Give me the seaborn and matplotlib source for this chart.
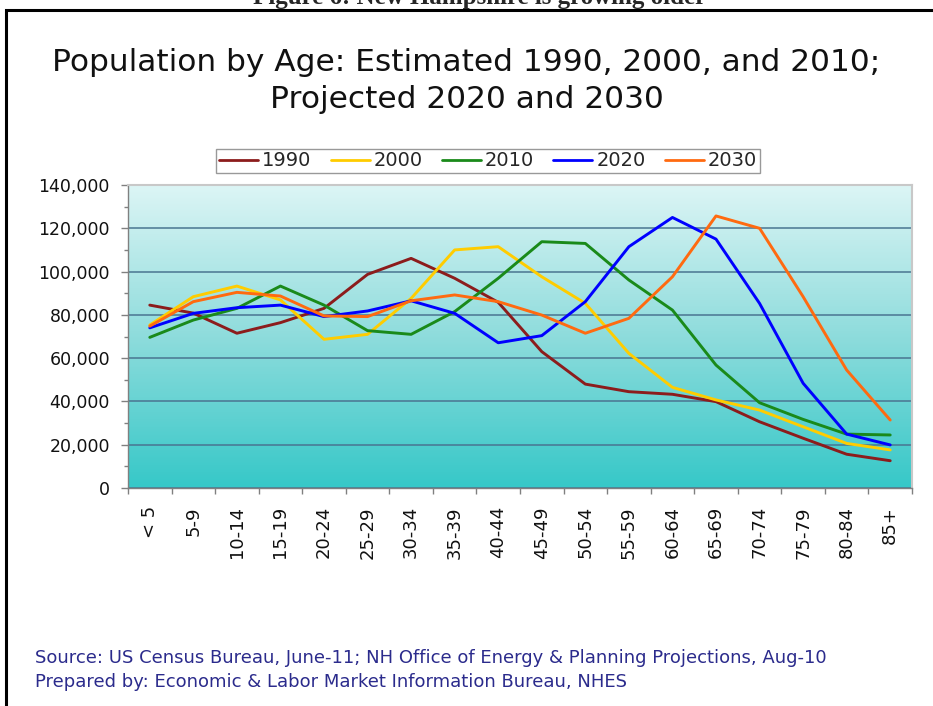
import numpy as np
import pandas as pd
import matplotlib
matplotlib.use("Agg")
import matplotlib.pyplot as plt
import seaborn as sns
from matplotlib.patches import Rectangle
from matplotlib.colors import LinearSegmentedColormap
from matplotlib.ticker import MultipleLocator, FuncFormatter

# age groups and population per year
age_groups = ["< 5", "5-9", "10-14", "15-19", "20-24", "25-29", "30-34", "35-39", "40-44",
              "45-49", "50-54", "55-59", "60-64", "65-69", "70-74", "75-79", "80-84", "85+"]
pop_1990 = [84500, 80800, 71500, 76400, 83000, 98700, 106100, 96900, 85800,
            63000, 48000, 44500, 43300, 39900, 30600, 23000, 15600, 12600]
pop_2000 = [75300, 88400, 93300, 86900, 68700, 71000, 87600, 110000, 111500,
            97600, 85300, 62200, 46500, 40700, 36000, 28300, 20600, 17600]
pop_2010 = [69600, 77600, 83000, 93300, 84500, 72700, 71000, 81500, 96900,
            113800, 113000, 96100, 82200, 56800, 39400, 31700, 24900, 24500]
pop_2020 = [74000, 80700, 83300, 84500, 79200, 81800, 86500, 80700, 67100,
            70400, 86100, 111500, 125000, 115000, 85300, 48400, 24900, 19900]
pop_2030 = [74800, 86100, 90400, 88700, 79500, 79200, 86500, 89200, 86100,
            79900, 71500, 78400, 97600, 125700, 120000, 88400, 54500, 31400]
years = ["1990", "2000", "2010", "2020", "2030"]
colors = ["#8c1c1c", "#ffcc00", "#1a8a1a", "#0000ff", "#ff6a10"]

df = pd.DataFrame({"age": age_groups, "1990": pop_1990, "2000": pop_2000,
                   "2010": pop_2010, "2020": pop_2020, "2030": pop_2030})
long_df = df.melt(id_vars="age", var_name="year", value_name="population")
long_df["x"] = long_df["age"].map({a: i for i, a in enumerate(age_groups)})

sns.set_style("white")
plt.rcParams["font.family"] = ["DejaVu Sans"]

fig = plt.figure(figsize=(9.33, 7.06), dpi=100)
ax = fig.add_axes([128 / 933, 1 - 488 / 706, 784 / 933, 303 / 706])

# gradient background of the plot area
grad = LinearSegmentedColormap.from_list("bg", ["#36c8c8", "#8edcdc", "#dcf5f5"])
ax.imshow(np.linspace(0, 1, 256).reshape(-1, 1), cmap=grad, origin="lower",
          extent=[0, 1, 0, 1], transform=ax.transAxes, aspect="auto", zorder=0)

sns.lineplot(data=long_df, x="x", y="population", hue="year", hue_order=years,
             palette=dict(zip(years, colors)), linewidth=2.1, ax=ax, legend=False,
             zorder=3)

ax.set_xlim(-0.5, len(age_groups) - 0.5)
ax.set_ylim(0, 140000)
ax.yaxis.set_major_locator(MultipleLocator(20000))
ax.yaxis.set_minor_locator(MultipleLocator(10000))
ax.yaxis.set_major_formatter(FuncFormatter(lambda v, p: f"{int(v):,}"))
ax.grid(axis="y", which="major", color="#4a7591", linewidth=1.1, zorder=1)
ax.set_axisbelow(True)

ax.set_xticks(range(len(age_groups)))
ax.set_xticklabels(age_groups, rotation=90, va="top", ha="center")
ax.set_xticks(np.arange(-0.5, len(age_groups)), minor=True)
ax.tick_params(axis="x", which="major", length=0, pad=13, labelsize=13, colors="#111111")
ax.tick_params(axis="x", which="minor", length=4, width=1, color="#808080", direction="out")
ax.tick_params(axis="y", which="major", length=5, width=1, color="#808080",
               direction="out", pad=8, labelsize=12.5, labelcolor="#111111")
ax.tick_params(axis="y", which="minor", length=3, width=1, color="#808080", direction="out")
ax.tick_params(left=True, bottom=True, which="both")
ax.set_xlabel("")
ax.set_ylabel("")

for side in ["left", "bottom"]:
    ax.spines[side].set_color("#808080")
    ax.spines[side].set_linewidth(1)
for side in ["top", "right"]:
    ax.spines[side].set_color("#c8c8c8")
    ax.spines[side].set_linewidth(1.5)

# legend
handles = [plt.Line2D([], [], color=c, linewidth=2) for c in colors]
leg = fig.legend(handles, years, loc="center", bbox_to_anchor=(488 / 933, 1 - 161 / 706),
                 ncol=5, frameon=True, fancybox=False, fontsize=14, handlelength=2.0,
                 handletextpad=0.2, columnspacing=1.0, borderpad=0.15)
leg.get_frame().set_edgecolor("#808080")
leg.get_frame().set_linewidth(1)

fig.text(0.5, 1 - 81 / 706,
         "Population by Age: Estimated 1990, 2000, and 2010;\nProjected 2020 and 2030",
         ha="center", va="center", fontsize=22.5, color="#111111", linespacing=1.32)

fig.text(35 / 933, 1 - 658 / 706,
         "Source: US Census Bureau, June-11; NH Office of Energy & Planning Projections, Aug-10",
         ha="left", va="center", fontsize=13, color="#2b2b8c")
fig.text(35 / 933, 1 - 682 / 706,
         "Prepared by: Economic & Labor Market Information Bureau, NHES",
         ha="left", va="center", fontsize=13, color="#2b2b8c")

# caption cut off at the top of the image
fig.text(480 / 933, 1 - 4 / 706, "Figure 6: New Hampshire is growing older", ha="center",
         va="baseline", fontsize=18, fontweight="bold", family="Liberation Serif")

# black outer frame
fig.patches.append(Rectangle((6 / 933, -0.1), 1.2, 1 - 9.5 / 706 + 0.1, transform=fig.transFigure,
                             fill=False, edgecolor="black", linewidth=2.2))

fig.savefig("out.png", dpi=100, facecolor="white")
